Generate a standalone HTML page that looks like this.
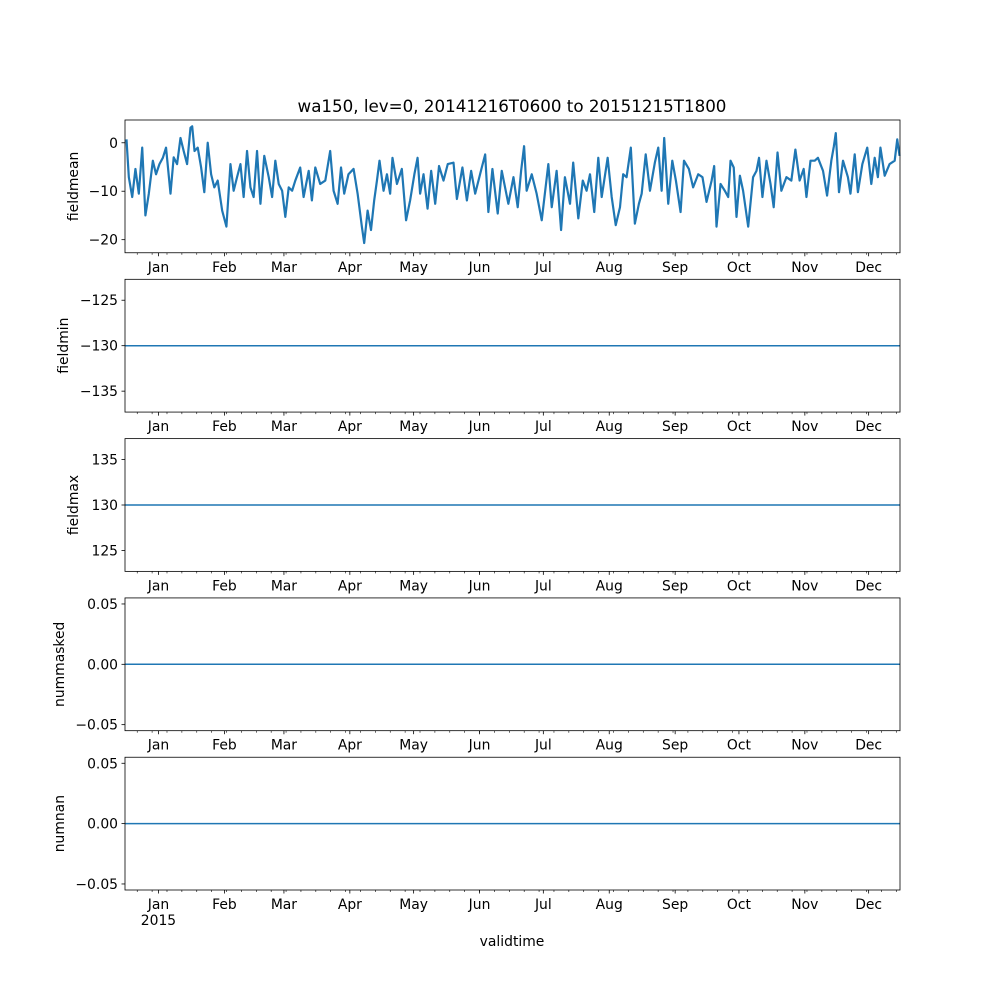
<!DOCTYPE html>
<html><head><meta charset="utf-8"><style>
body{margin:0;background:#fff}
svg text{font-family:"DejaVu Sans","Liberation Sans",sans-serif;font-size:13.9px;fill:#000}
</style></head><body>
<svg id="fig" width="1000" height="1000" viewBox="0 0 1000 1000" xmlns="http://www.w3.org/2000/svg">
<rect width="1000" height="1000" fill="#fff"/>
<text x="512" y="112" text-anchor="middle" style="font-size:16.7px">wa150, lev=0, 20141216T0600 to 20151215T1800</text>
<text x="512" y="946" text-anchor="middle">validtime</text>
</svg>
<script>
// days since 2014-12-16 06:00
const meanDays=[0.7,1.8,3.4,4.9,6.5,8.1,9.6,11.2,13.1,14.6,16.2,17.8,19.3,21.4,22.9,24.5,26.1,27.6,29.2,30.8,31.6,32.7,34.2,35.8,37.3,38.9,40.5,42,43.6,45.7,47.7,49.6,51.1,52.7,54.3,55.8,57.4,59,60.5,62.1,63.7,65.5,67.6,69.2,70.7,72.3,73.9,75.4,77,78.6,80.1,82.4,84,86.4,87.9,89.5,91.8,94.2,96.5,98.1,100,101.6,103.1,105.1,107.5,109.4,111.4,112.5,114.1,115.7,117.2,118.5,119.7,121.6,123.2,124.7,125.8,127.9,130.2,132.2,134.1,136.1,137.6,138.8,140.4,142.3,144,145.9,147.7,149.8,151.8,154.5,156.1,158.7,160.8,162.8,164.7,167.8,169.4,170.9,172.8,175.3,177.2,180.3,182.7,184.7,186.3,187.7,188.9,191.3,193.6,196,199.1,200.7,203,205.1,206.9,209.3,210.8,213.2,215.3,217.1,218.7,220.7,222.6,224.2,227,228.9,230.8,232.8,234.3,235.9,237.9,239.8,241.7,243,244.9,246.9,249.2,250.8,252.4,253.6,255.5,257.4,259.1,261.3,262.9,265.2,267.2,269.6,271.6,273.5,275.9,277.1,278.2,280.1,282.1,283.7,284.8,286.3,287.6,289.2,290.7,293.1,295.4,297,298.2,299.8,301.7,303.6,305.1,306.9,308.7,311.1,313.4,315.3,317.3,319.2,320.5,322.4,324.4,325.9,328.3,330.2,332.2,333.4,334.3,335.8,337.7,340,341.2,343.2,344.7,346.8,349.1,351,352.6,354.1,355.3,357.3,359.6,362,363.2,364.3];
const meanVals=[0.7,-7.1,-11.2,-5.4,-10.5,-1.0,-15,-10.5,-3.7,-6.5,-4.4,-3.1,-1,-10.5,-3,-4.4,1,-1.7,-4.4,3.1,3.4,-1.7,-1,-5.1,-10.2,0,-6.5,-9.2,-7.8,-14,-17.3,-4.4,-9.9,-7.1,-4.4,-11.2,-1.7,-9.2,-11.2,-1.7,-12.6,-2.7,-7.1,-11.2,-3.7,-8.5,-9.9,-15.3,-9.2,-9.9,-7.8,-5.1,-11.2,-5.8,-11.9,-5.1,-8.5,-7.8,-1.7,-9.9,-12.6,-5.1,-10.5,-6.5,-5.4,-10.5,-17.3,-20.7,-14,-18,-11.9,-7.8,-3.7,-9.9,-6.5,-10.5,-3.1,-8.5,-5.4,-16,-11.9,-6.5,-3.1,-10.5,-6.5,-13.6,-5.8,-12.6,-4.8,-7.8,-4.4,-4.1,-11.6,-5.1,-11.9,-5.8,-10.5,-5.1,-2.4,-14.3,-5.4,-14.6,-5.8,-12.6,-7.1,-13.3,-5.8,-0.7,-9.9,-6.5,-10.5,-16,-4.4,-13.3,-5.8,-18,-7.1,-12.6,-4.1,-15.6,-7.8,-9.9,-6.5,-14.3,-3.1,-11.2,-3.1,-11.2,-17,-13.3,-6.5,-7.1,-1,-16.7,-12.6,-10.5,-2.4,-9.9,-4.1,-1,-9.9,1,-12.6,-3.7,-7.8,-14.3,-3.7,-5.4,-9.2,-6.5,-7.1,-12.2,-7.8,-4.8,-17.3,-8.5,-9.9,-11.2,-3.7,-5.1,-15.3,-6.8,-9.9,-17.3,-7.1,-5.8,-3.1,-11.2,-3.7,-8.5,-13.3,-2,-9.9,-7.1,-7.8,-1.4,-7.8,-5.4,-11.2,-3.7,-3.7,-3.1,-5.8,-10.9,-3.7,-0.7,2,-10.2,-3.7,-7.1,-10.5,-2.4,-10.2,-4.4,-1,-8.5,-3.1,-7.1,-1,-6.8,-4.4,-3.7,0.7,-2.7];
const constVals=[-130,130,0,0];
const panelNames=["fieldmean","fieldmin","fieldmax","nummasked","numnan"];
const yDomains=[[-22.7,4.7],[-137.3,-122.7],[122.7,137.3],[-0.055,0.055],[-0.055,0.055]];
const yTicks=[[0,-10,-20],[-125,-130,-135],[135,130,125],[0.05,0,-0.05],[0.05,0,-0.05]];
const yTickLabels=[["0","\u221210","\u221220"],["\u2212125","\u2212130","\u2212135"],["135","130","125"],["0.05","0.00","\u22120.05"],["0.05","0.00","\u22120.05"]];
const monthLabels=["Jan","Feb","Mar","Apr","May","Jun","Jul","Aug","Sep","Oct","Nov","Dec"];
const monthDays=[15.75,46.75,74.75,105.75,135.75,166.75,196.75,227.75,258.75,288.75,319.75,349.75];
const totalDays=364.5;
const NS="http://www.w3.org/2000/svg";
const svg=document.getElementById('fig');
const L=125,R=900,T0=120,H=132.76,G=26.55;
function xS(d){return L+d/totalDays*(R-L);}
function mk(t,a,p){const e=document.createElementNS(NS,t);for(const k in a)e.setAttribute(k,a[k]);(p||svg).appendChild(e);return e;}
const minorDays=[];for(let d=5.75;d<totalDays;d+=7)minorDays.push(d);
panelNames.forEach((nm,i)=>{
  const top=T0+i*(H+G),bot=top+H;
  const [y0,y1]=yDomains[i];
  const yS=v=>bot-(v-y0)/(y1-y0)*H;
  const g=mk('g',{});
  
  
  let pts;
  if(i===0){pts=meanDays.map((d,k)=>xS(d).toFixed(2)+','+yS(meanVals[k]).toFixed(2)).join(' ');}
  else{const v=constVals[i-1];pts=xS(0)+','+yS(v)+' '+xS(totalDays)+','+yS(v);}
  const ln=mk('polyline',{points:pts,fill:'none',stroke:'#1f77b4','stroke-width':i===0?2.2:1.5,'stroke-linejoin':'round'},g);
  
  
  const fr=mk('rect',{x:L,y:top,width:R-L,height:H,fill:'none',stroke:'#000','stroke-width':0.8},g);
  
  
  yTicks[i].forEach((v,k)=>{
    const y=yS(v);
    mk('line',{x1:L-3.5,x2:L,y1:y,y2:y,stroke:'#000','stroke-width':0.8},g);
    const t=mk('text',{x:L-7,y:y+5,'text-anchor':'end'},g);t.textContent=yTickLabels[i][k];
    
    
  });
  minorDays.forEach(d=>{const x=xS(d);mk('line',{x1:x,x2:x,y1:bot,y2:bot+2,stroke:'#000','stroke-width':0.6},g);});
  monthDays.forEach((d,k)=>{
    const x=xS(d);
    mk('line',{x1:x,x2:x,y1:bot,y2:bot+3.5,stroke:'#000','stroke-width':0.8},g);
    const t=mk('text',{x:x,y:bot+19,'text-anchor':'middle'},g);t.textContent=monthLabels[k];
    
    
  });
  const labX=[78,68,78,64,64][i];
  const yl=mk('text',{x:labX,y:(top+bot)/2,'text-anchor':'middle',transform:'rotate(-90 '+labX+' '+(top+bot)/2+')'},g);
  yl.textContent=nm;
  
  
  if(i===4){const t=mk('text',{x:xS(monthDays[0]),y:bot+35,'text-anchor':'middle'},g);t.textContent='2015';
    
    }
});
</script>
</body></html>
